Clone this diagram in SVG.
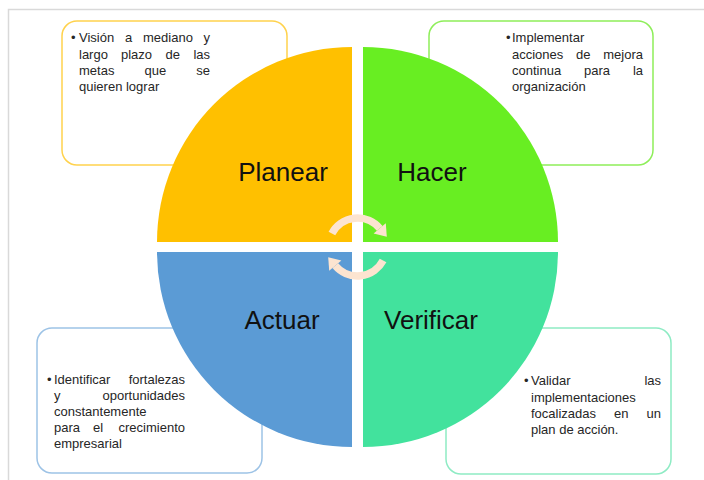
<svg xmlns="http://www.w3.org/2000/svg" width="704" height="480" viewBox="0 0 704 480">
<style>
.t{font-family:"Liberation Sans",Arial,sans-serif;font-size:13px;fill:#262626}
.e{text-anchor:end}
.big{font-family:"Liberation Sans",Arial,sans-serif;font-size:26px;fill:#111;text-anchor:middle}
.box{fill:#fff;stroke-width:1.5}
</style>
<rect width="704" height="480" fill="#fff"/>
<path d="M8.5 480 V9.5 H704" fill="none" stroke="#d9d9d9" stroke-width="1.5"/>

<g id="box-planear">
<rect class="box" x="62" y="21" width="225" height="144" rx="15" stroke="#FFD24D"/>
<text class="t" x="71" y="42">•</text>
<text class="t" x="79" y="42">Visión</text><text class="t" x="125" y="42">a</text><text class="t" x="143" y="42">mediano</text><text class="t e" x="210" y="42">y</text>
<text class="t" x="79" y="58.5">largo</text><text class="t" x="121" y="58.5">plazo</text><text class="t" x="165.5" y="58.5">de</text><text class="t e" x="210" y="58.5">las</text>
<text class="t" x="79" y="75">metas</text><text class="t" x="144.5" y="75">que</text><text class="t e" x="210" y="75">se</text>
<text class="t" x="79" y="91">quieren lograr</text>
</g>

<g id="box-hacer">
<rect class="box" x="429" y="21" width="224" height="144" rx="15" stroke="#8EEE5A"/>
<text class="t" x="506" y="42">•</text>
<text class="t" x="512" y="42">Implementar</text>
<text class="t" x="512" y="58.5">acciones</text><text class="t" x="576" y="58.5">de</text><text class="t e" x="643" y="58.5">mejora</text>
<text class="t" x="512" y="75">continua</text><text class="t" x="584" y="75">para</text><text class="t e" x="643" y="75">la</text>
<text class="t" x="512" y="91">organización</text>
</g>

<g id="box-actuar">
<rect class="box" x="37" y="328" width="225" height="145" rx="15" stroke="#9DC3E6"/>
<text class="t" x="47" y="384.3">•</text>
<text class="t" x="54" y="384.3">Identificar</text><text class="t e" x="185" y="384.3">fortalezas</text>
<text class="t" x="54" y="400">y</text><text class="t e" x="185" y="400">oportunidades</text>
<text class="t" x="54" y="415.7">constantemente</text>
<text class="t" x="54" y="431.7">para</text><text class="t" x="93" y="431.7">el</text><text class="t e" x="185" y="431.7">crecimiento</text>
<text class="t" x="54" y="447.7">empresarial</text>
</g>

<g id="box-verificar">
<rect class="box" x="446" y="328" width="225" height="146" rx="15" stroke="#8EEBC4"/>
<text class="t" x="524" y="385">•</text>
<text class="t" x="531" y="385">Validar</text><text class="t e" x="661" y="385">las</text>
<text class="t" x="531" y="401.7">implementaciones</text>
<text class="t" x="531" y="417.7">focalizadas</text><text class="t" x="614" y="417.7">en</text><text class="t e" x="661" y="417.7">un</text>
<text class="t" x="531" y="434.3">plan de acción.</text>
</g>

<g id="planear">
<path d="M352 242 H157 A195 195 0 0 1 352 47 Z" fill="#FFC000"/>
<text class="big" x="283" y="181">Planear</text>
</g>
<g id="hacer">
<path d="M363 242 V47 A195 195 0 0 1 558 242 Z" fill="#68EE22"/>
<text class="big" x="432" y="181">Hacer</text>
</g>
<g id="actuar">
<path d="M352 252 V447 A195 195 0 0 1 157 252 Z" fill="#5B9BD5"/>
<text class="big" x="282" y="329">Actuar</text>
</g>
<g id="verificar">
<path d="M363 252 H558 A195 195 0 0 1 363 447 Z" fill="#42E29D"/>
<text class="big" x="431" y="329">Verificar</text>
</g>

<g id="connectors">
<path d="M331.9 233.4 A29 29 0 0 1 379.7 228.4" fill="none" stroke="#FCE4D0" stroke-width="7.5"/>
<polygon points="385.8,223.3 373.6,233.5 386.8,236.8" fill="#FCE4D0"/>
<path d="M383.1 260.6 A29 29 0 0 1 335.3 265.6" fill="none" stroke="#FCE4D0" stroke-width="7.5"/>
<polygon points="329.2,270.7 341.4,260.5 328.2,257.2" fill="#FCE4D0"/>
</g>
</svg>
